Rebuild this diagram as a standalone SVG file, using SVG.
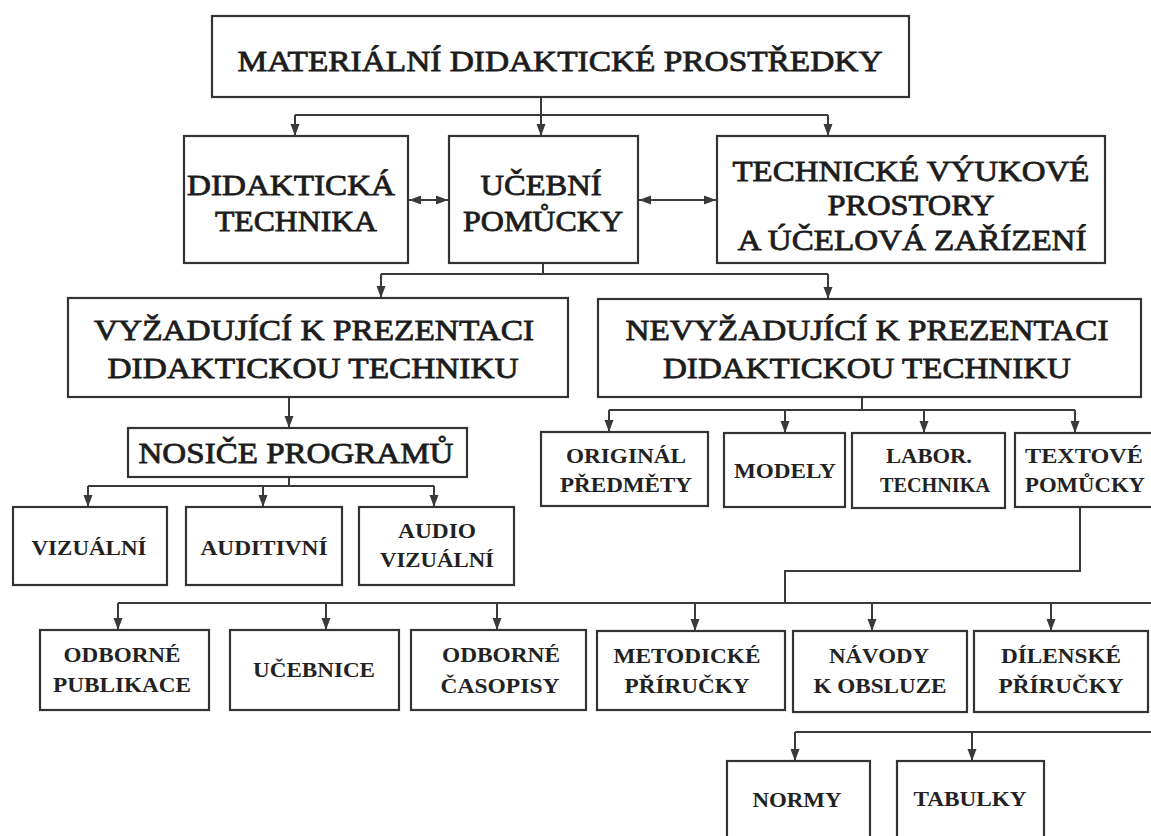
<svg xmlns="http://www.w3.org/2000/svg" width="1151" height="836" viewBox="0 0 1151 836">
<defs>
<style>
.box{fill:#fff;stroke:#333;stroke-width:2.2}
.ln{fill:none;stroke:#3a3a3a;stroke-width:2}
.ar{fill:none;stroke:#3a3a3a;stroke-width:2;marker-end:url(#ah)}
.dar{fill:none;stroke:#3a3a3a;stroke-width:2;marker-end:url(#ah);marker-start:url(#ahs)}
.big{font-family:"Liberation Serif","Times New Roman",serif;font-size:30px;fill:#1c1c1c;stroke:#1c1c1c;stroke-width:0.8;text-anchor:middle}
.sm{font-family:"Liberation Serif","Times New Roman",serif;font-size:21px;font-weight:bold;fill:#222;text-anchor:middle}
</style>
<marker id="ah" markerUnits="userSpaceOnUse" markerWidth="12" markerHeight="12" viewBox="0 0 12 10" refX="12" refY="5" orient="auto">
<path d="M0,0.5 L12,5 L0,9.5 Z" fill="#3a3a3a"/>
</marker>
<marker id="ahs" markerUnits="userSpaceOnUse" markerWidth="12" markerHeight="12" viewBox="0 0 12 10" refX="0" refY="5" orient="auto">
<path d="M12,0.5 L0,5 L12,9.5 Z" fill="#3a3a3a"/>
</marker>
</defs>
<rect width="1151" height="836" fill="#fff"/>

<g id="connectors">
<path class="ln" d="M541 97 V115 M295 115 H828"/>
<path class="ar" d="M295 115 V136"/>
<path class="ar" d="M541 115 V136"/>
<path class="ar" d="M828 115 V136"/>
<path class="dar" d="M409 200 H448"/>
<path class="dar" d="M639 200 H716"/>
<path class="ln" d="M543 263 V274 M381 274 H828"/>
<path class="ar" d="M381 274 V298"/>
<path class="ar" d="M828 274 V299"/>
<path class="ar" d="M289 397 V428"/>
<path class="ln" d="M289 477 V486 M88 486 H434"/>
<path class="ar" d="M88 486 V507"/>
<path class="ar" d="M263 486 V507"/>
<path class="ar" d="M434 486 V507"/>
<path class="ln" d="M862 397 V410 M609 410 H1075"/>
<path class="ar" d="M609 410 V432"/>
<path class="ar" d="M785 410 V433"/>
<path class="ar" d="M924 410 V433"/>
<path class="ar" d="M1075 410 V433"/>
<path class="ln" d="M1080 507 V571 H785 V603 M118 603 H1151"/>
<path class="ar" d="M118 603 V630"/>
<path class="ar" d="M326 603 V630"/>
<path class="ar" d="M497 603 V630"/>
<path class="ar" d="M695 603 V631"/>
<path class="ar" d="M872 603 V631"/>
<path class="ar" d="M1051 603 V631"/>
<path class="ln" d="M795 732 H1151"/>
<path class="ar" d="M795 732 V761"/>
<path class="ar" d="M972 732 V761"/>
</g>

<g id="n-materialni">
<rect class="box" x="212" y="16" width="697" height="81"/>
<text class="big" x="560" y="71" textLength="645" lengthAdjust="spacingAndGlyphs">MATERIÁLNÍ DIDAKTICKÉ PROSTŘEDKY</text>
</g>
<g id="n-didakticka-technika">
<rect class="box" x="184" y="136" width="224" height="127"/>
<text class="big" x="291" y="195" textLength="208" lengthAdjust="spacingAndGlyphs">DIDAKTICKÁ</text>
<text class="big" x="296" y="231" textLength="162" lengthAdjust="spacingAndGlyphs">TECHNIKA</text>
</g>
<g id="n-ucebni-pomucky">
<rect class="box" x="449" y="136" width="189" height="127"/>
<text class="big" x="541" y="195" textLength="121" lengthAdjust="spacingAndGlyphs">UČEBNÍ</text>
<text class="big" x="543" y="231" textLength="160" lengthAdjust="spacingAndGlyphs">POMŮCKY</text>
</g>
<g id="n-technicke-prostory">
<rect class="box" x="717" y="136" width="388" height="127"/>
<text class="big" x="911" y="181" textLength="357" lengthAdjust="spacingAndGlyphs">TECHNICKÉ VÝUKOVÉ</text>
<text class="big" x="911" y="215" textLength="167" lengthAdjust="spacingAndGlyphs">PROSTORY</text>
<text class="big" x="912" y="250" textLength="349" lengthAdjust="spacingAndGlyphs">A ÚČELOVÁ ZAŘÍZENÍ</text>
</g>
<g id="n-vyzadujici">
<rect class="box" x="68" y="298" width="500" height="99"/>
<text class="big" x="314" y="340" textLength="440" lengthAdjust="spacingAndGlyphs">VYŽADUJÍCÍ K PREZENTACI</text>
<text class="big" x="313" y="378" textLength="411" lengthAdjust="spacingAndGlyphs">DIDAKTICKOU TECHNIKU</text>
</g>
<g id="n-nevyzadujici">
<rect class="box" x="598" y="299" width="543" height="98"/>
<text class="big" x="867" y="340" textLength="483" lengthAdjust="spacingAndGlyphs">NEVYŽADUJÍCÍ K PREZENTACI</text>
<text class="big" x="867" y="378" textLength="408" lengthAdjust="spacingAndGlyphs">DIDAKTICKOU TECHNIKU</text>
</g>
<g id="n-nosice">
<rect class="box" x="128" y="428" width="339" height="49"/>
<text class="big" x="296" y="463" textLength="315" lengthAdjust="spacingAndGlyphs">NOSIČE PROGRAMŮ</text>
</g>
<g id="n-vizualni">
<rect class="box" x="13" y="507" width="154" height="78"/>
<text class="sm" x="89" y="555" textLength="115" lengthAdjust="spacingAndGlyphs">VIZUÁLNÍ</text>
</g>
<g id="n-auditivni">
<rect class="box" x="186" y="507" width="156" height="78"/>
<text class="sm" x="264" y="555" textLength="127" lengthAdjust="spacingAndGlyphs">AUDITIVNÍ</text>
</g>
<g id="n-audiovizualni">
<rect class="box" x="359" y="507" width="155" height="78"/>
<text class="sm" x="437" y="538" textLength="78" lengthAdjust="spacingAndGlyphs">AUDIO</text>
<text class="sm" x="437" y="567" textLength="114" lengthAdjust="spacingAndGlyphs">VIZUÁLNÍ</text>
</g>
<g id="n-original">
<rect class="box" x="541" y="432" width="167" height="74"/>
<text class="sm" x="626" y="463" textLength="120" lengthAdjust="spacingAndGlyphs">ORIGINÁL</text>
<text class="sm" x="626" y="492" textLength="132" lengthAdjust="spacingAndGlyphs">PŘEDMĚTY</text>
</g>
<g id="n-modely">
<rect class="box" x="724" y="433" width="121" height="74"/>
<text class="sm" x="785" y="478" textLength="102" lengthAdjust="spacingAndGlyphs">MODELY</text>
</g>
<g id="n-labor">
<rect class="box" x="852" y="433" width="153" height="75"/>
<text class="sm" x="929" y="463" textLength="86" lengthAdjust="spacingAndGlyphs">LABOR.</text>
<text class="sm" x="935" y="492" textLength="110" lengthAdjust="spacingAndGlyphs">TECHNIKA</text>
</g>
<g id="n-textove">
<rect class="box" x="1015" y="433" width="145" height="74"/>
<text class="sm" x="1084" y="463" textLength="118" lengthAdjust="spacingAndGlyphs">TEXTOVÉ</text>
<text class="sm" x="1085" y="492" textLength="120" lengthAdjust="spacingAndGlyphs">POMŮCKY</text>
</g>
<g id="n-odborne-publikace">
<rect class="box" x="40" y="630" width="169" height="80"/>
<text class="sm" x="122" y="662" textLength="117" lengthAdjust="spacingAndGlyphs">ODBORNÉ</text>
<text class="sm" x="122" y="692" textLength="138" lengthAdjust="spacingAndGlyphs">PUBLIKACE</text>
</g>
<g id="n-ucebnice">
<rect class="box" x="230" y="630" width="169" height="80"/>
<text class="sm" x="314" y="677" textLength="122" lengthAdjust="spacingAndGlyphs">UČEBNICE</text>
</g>
<g id="n-odborne-casopisy">
<rect class="box" x="411" y="630" width="175" height="80"/>
<text class="sm" x="501" y="662" textLength="118" lengthAdjust="spacingAndGlyphs">ODBORNÉ</text>
<text class="sm" x="500" y="693" textLength="119" lengthAdjust="spacingAndGlyphs">ČASOPISY</text>
</g>
<g id="n-metodicke">
<rect class="box" x="597" y="631" width="188" height="79"/>
<text class="sm" x="687" y="663" textLength="147" lengthAdjust="spacingAndGlyphs">METODICKÉ</text>
<text class="sm" x="687" y="693" textLength="125" lengthAdjust="spacingAndGlyphs">PŘÍRUČKY</text>
</g>
<g id="n-navody">
<rect class="box" x="793" y="631" width="174" height="81"/>
<text class="sm" x="879" y="663" textLength="100" lengthAdjust="spacingAndGlyphs">NÁVODY</text>
<text class="sm" x="880" y="693" textLength="133" lengthAdjust="spacingAndGlyphs">K OBSLUZE</text>
</g>
<g id="n-dilenske">
<rect class="box" x="974" y="631" width="174" height="81"/>
<text class="sm" x="1061" y="663" textLength="120" lengthAdjust="spacingAndGlyphs">DÍLENSKÉ</text>
<text class="sm" x="1061" y="693" textLength="125" lengthAdjust="spacingAndGlyphs">PŘÍRUČKY</text>
</g>
<g id="n-normy">
<rect class="box" x="727" y="761" width="143" height="90"/>
<text class="sm" x="797" y="807" textLength="89" lengthAdjust="spacingAndGlyphs">NORMY</text>
</g>
<g id="n-tabulky">
<rect class="box" x="897" y="761" width="147" height="90"/>
<text class="sm" x="970" y="806" textLength="113" lengthAdjust="spacingAndGlyphs">TABULKY</text>
</g>
</svg>
